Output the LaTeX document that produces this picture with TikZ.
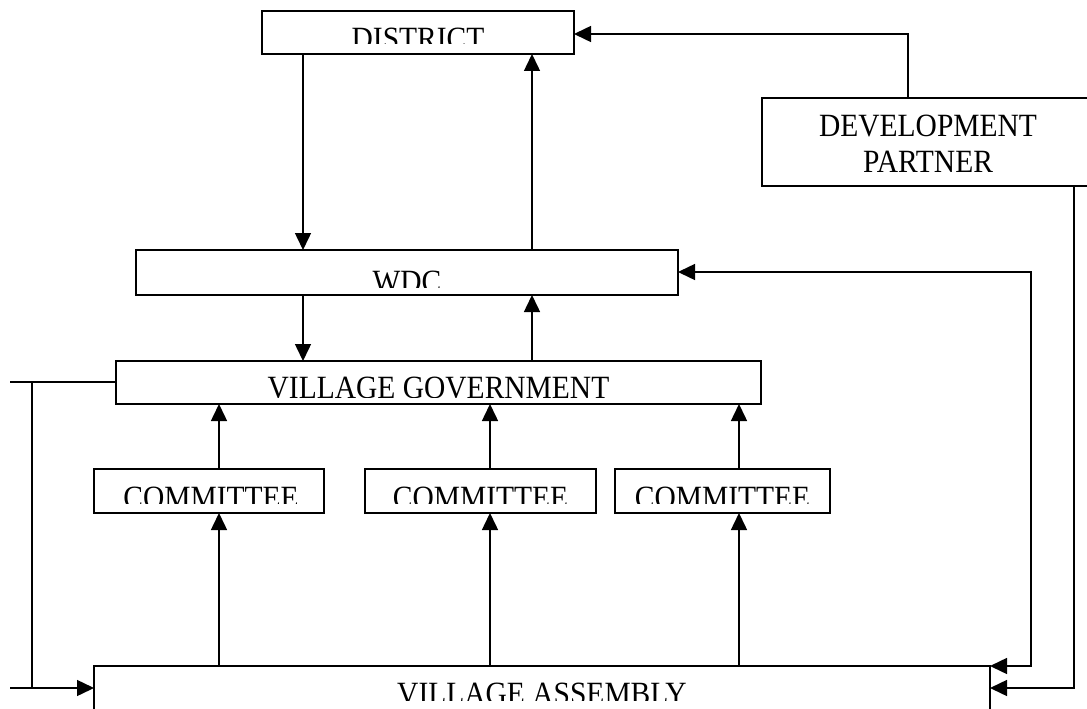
\documentclass[tikz,border=0pt]{standalone}
\usepackage{fontspec}
\setmainfont{Liberation Serif}
\usetikzlibrary{arrows.meta}
\newcommand{\tall}[1]{\scalebox{1}[1.1]{#1}}
\begin{document}
\begin{tikzpicture}[x=1pt,y=-1pt,
  box/.style={draw=black,line width=1.5pt,fill=white},
  lbl/.style={font=\fontsize{29.5}{33}\selectfont,anchor=base,inner sep=0pt},
  conn/.style={line width=1.5pt,-{Triangle[length=17pt,width=16pt]}},
  plain/.style={line width=1.5pt}]
\useasboundingbox (0,0) rectangle (1087,709);
\clip (0,0) rectangle (1087,709);
% boxes
\draw[box] (262,11) rectangle (574,54);
\draw[box] (136,250) rectangle (678,295);
\draw[box] (116,361) rectangle (761,404);
\draw[box] (94,469) rectangle (324,513);
\draw[box] (365,469) rectangle (596,513);
\draw[box] (615,469) rectangle (830,513);
\draw[box] (94,666) rectangle (990,740);
\draw[box] (762,98) rectangle (1096,186);
% labels (clipped as in the reference)
\begin{scope}\clip (262,11) rectangle (574,44);
  \node[lbl] (tdist) at (418,49.5) {\tall{DISTRICT}};\end{scope}
\begin{scope}\clip (136,250) rectangle (678,287);
  \node[lbl] (twdc) at (407,292.5) {\tall{WDC}};\end{scope}
\begin{scope}\clip (116,361) rectangle (761,397);
  \node[lbl] (tvg) at (438.5,398.5) {\tall{VILLAGE GOVERNMENT}};\end{scope}
\begin{scope}\clip (94,469) rectangle (830,503);
  \node[lbl] (tc1) at (211,508.5) {\tall{COMMITTEE}};
  \node[lbl] (tc2) at (480.5,508.5) {\tall{COMMITTEE}};
  \node[lbl] (tc3) at (722.5,508.5) {\tall{COMMITTEE}};\end{scope}
\begin{scope}\clip (94,666) rectangle (990,700);
  \node[lbl] (tva) at (542,704.5) {\tall{VILLAGE ASSEMBLY}};\end{scope}
\node[lbl] (tdp1) at (928,136.5) {\tall{DEVELOPMENT}};
\node[lbl] (tdp2) at (928,172) {\tall{PARTNER}};
% named points
\coordinate (dBot) at (303,54);  \coordinate (wTop) at (303,250);
\coordinate (dBot2) at (532,54); \coordinate (wTop2) at (532,250);
\coordinate (wBot) at (303,295); \coordinate (vTop) at (303,361);
\coordinate (wBot2) at (532,295); \coordinate (vTop2) at (532,361);
\foreach \i/\x in {1/219,2/490,3/739}{
  \coordinate (vb\i) at (\x,404);
  \coordinate (ct\i) at (\x,469);
  \coordinate (cb\i) at (\x,513);
  \coordinate (at\i) at (\x,666);
}
\coordinate (dpTop) at (908,98);
\coordinate (distE) at (574,34);
\coordinate (wdcE) at (678,272);
\coordinate (vgW) at (116,382);
\coordinate (vaW) at (94,688);
\coordinate (vaNE) at (990,666);
\coordinate (vaE) at (990,688);
\coordinate (dpBot) at (1074,186);
\coordinate (lfTop) at (10,382);
\coordinate (lfBot) at (10,688);
% connectors
\draw[conn] (dBot) -- (wTop);
\draw[conn] (wTop2) -- (dBot2);
\draw[conn] (wBot) -- (vTop);
\draw[conn] (vTop2) -- (wBot2);
\foreach \i in {1,2,3}{
  \draw[conn] (ct\i) -- (vb\i);
  \draw[conn] (at\i) -- (cb\i);
}
\draw[conn] (dpTop) |- (distE);
\draw[line width=1.5pt,{Triangle[length=17pt,width=16pt]}-{Triangle[length=17pt,width=16pt]}]
  (wdcE) -| (1031,666) -- (vaNE);
\draw[conn] (dpBot) |- (vaE);
\draw[plain] (lfTop) -- (vgW);
\draw[plain] (32,382) -- (32,688);
\draw[conn] (lfBot) -- (vaW);
\end{tikzpicture}
\end{document}
